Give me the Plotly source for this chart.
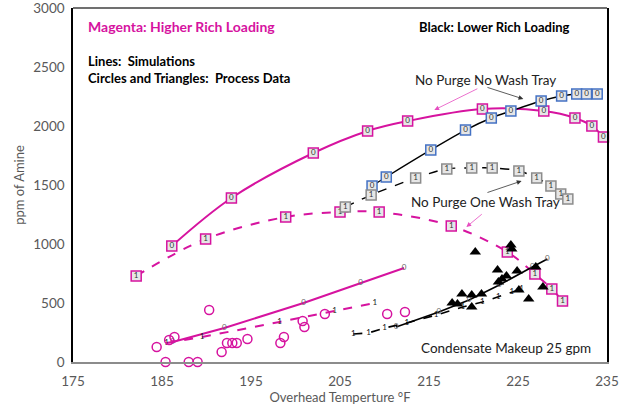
import plotly.graph_objects as go

MAG = "#D6139F"
BLK = "black"

# --- simulations, higher rich loading (magenta) ---
mag_nowash_x = [186.1, 192.8, 202.0, 208.1, 212.6, 221.0, 227.9, 231.4, 233.3, 234.6]
mag_nowash_y = [983, 1390, 1771, 1958, 2042, 2144, 2127, 2068, 2000, 1907]

mag_onewash_x = [182.1, 189.9, 198.9, 205.0, 209.4, 217.5, 223.8, 226.9, 228.8, 230.0]
mag_onewash_y = [729, 1042, 1229, 1271, 1271, 1153, 932, 746, 619, 517]

mag_cond_x = [186.2, 192.0, 200.9, 207.3, 212.2]
mag_cond_y = [170, 288, 500, 670, 797]

mag_cond1_x = [185.5, 189.5, 198.2, 204.4, 208.9]
mag_cond1_y = [161, 212, 339, 432, 500]

# --- simulations, lower rich loading (black) ---
blk_nowash_x = [208.6, 210.2, 215.2, 219.1, 222.0, 224.2, 227.6, 229.9, 231.6, 232.7, 233.9]
blk_nowash_y = [1492, 1568, 1797, 1966, 2068, 2127, 2212, 2254, 2271, 2271, 2271]

blk_onewash_x = [205.6, 208.5, 213.5, 217.0, 219.8, 222.1, 225.1, 227.1, 228.7, 229.8, 230.6]
blk_onewash_y = [1314, 1415, 1559, 1636, 1644, 1644, 1619, 1559, 1492, 1424, 1381]

blk_cond_x = [211.3, 216.1, 219.5, 222.9, 226.6, 228.3]
blk_cond_y = [297, 424, 525, 653, 805, 873]

blk_cond1_x = [206.5, 208.2, 210.0, 212.5, 215.8, 218.8, 221.0, 222.8, 224.3, 225.4]
blk_cond1_y = [237, 246, 288, 331, 398, 466, 508, 551, 593, 619]

# --- process data ---
circ_x = [184.4, 185.8, 186.4, 190.3, 185.4, 188.0, 189.0, 191.7, 192.3, 192.9, 193.4,
          194.6, 198.3, 198.7, 200.8, 201.0, 203.3, 210.3, 212.3]
circ_y = [127, 186, 212, 441, 0, 0, 0, 85, 161, 161, 161,
          195, 161, 212, 347, 297, 407, 407, 424]

tri_x = [220.2, 224.2, 224.3, 222.7, 224.9, 223.7, 223.2, 222.8, 218.7, 219.8, 220.9,
         217.6, 218.2, 219.8, 225.1, 226.2, 227.8, 227.0]
tri_y = [932, 992, 958, 780, 771, 729, 703, 678, 576, 568, 576,
         500, 492, 466, 610, 534, 636, 805]

FONT = "Lato"
fig = go.Figure()


def boxed(x, y, lab, color, dash, border):
    fig.add_trace(go.Scatter(
        x=x, y=y, mode="lines+markers+text", text=[lab] * len(x),
        textposition="middle center", textfont=dict(size=8, color="#333333"),
        line=dict(color=color, width=2 if color == MAG else 1.4, dash=dash, shape="spline"),
        marker=dict(symbol="square", size=10, color="#e6e6e6", line=dict(color=border, width=1.5)),
        cliponaxis=False, showlegend=False))


def plain(x, y, lab, color, dash, tcolor):
    fig.add_trace(go.Scatter(
        x=x, y=y, mode="lines+text", text=[lab] * len(x),
        textposition="middle center", textfont=dict(size=8, color=tcolor),
        line=dict(color=color, width=2 if color == MAG else 1.6, dash=dash),
        cliponaxis=False, showlegend=False))


boxed(mag_nowash_x, mag_nowash_y, "0", MAG, "solid", MAG)
boxed(mag_onewash_x, mag_onewash_y, "1", MAG, "dash", MAG)
boxed(blk_nowash_x, blk_nowash_y, "0", BLK, "solid", "#4472C4")
boxed(blk_onewash_x, blk_onewash_y, "1", BLK, "dash", "#8c8c8c")
plain(mag_cond_x, mag_cond_y, "0", MAG, "solid", "#666666")
plain(mag_cond1_x, mag_cond1_y, "1", MAG, "dash", "#222222")
plain(blk_cond_x, blk_cond_y, "0", BLK, "solid", "#666666")
plain(blk_cond1_x, blk_cond1_y, "1", BLK, "dash", "#111111")

fig.add_trace(go.Scatter(x=circ_x, y=circ_y, mode="markers", cliponaxis=False, showlegend=False,
                         marker=dict(symbol="circle-open", size=9, color=MAG, line=dict(width=1.5))))
fig.add_trace(go.Scatter(x=tri_x, y=tri_y, mode="markers", cliponaxis=False, showlegend=False,
                         marker=dict(symbol="triangle-up", size=10, color="black")))

ann = [
    dict(x=176.6, y=2840, text="<b>Magenta: Higher Rich Loading</b>", font=dict(color=MAG, size=14)),
    dict(x=213.8, y=2840, text="<b>Black: Lower Rich Loading</b>", font=dict(color="black", size=13)),
    dict(x=176.6, y=2550, text="<b>Lines:  Simulations</b>", font=dict(color="black", size=13)),
    dict(x=176.6, y=2405, text="<b>Circles and Triangles:  Process Data</b>", font=dict(color="black", size=13)),
]
for a in ann:
    fig.add_annotation(showarrow=False, xanchor="left", yanchor="middle", borderpad=0, **a)

for txt, x, y in [("No Purge No Wash Tray", 221.4, 2390),
                  ("No Purge One Wash Tray", 221.4, 1356),
                  ("Condensate Makeup 25 gpm", 223.7, 119)]:
    fig.add_annotation(x=x, y=y, text=txt, showarrow=False, font=dict(size=13.5, color="#222222"))

arrows = [(215.6, 2136, 220.6, 2322, "#E64DC0"),
          (225.6, 2229, 221.4, 2331, "#333333"),
          (225.4, 1534, 221.4, 1432, "#333333"),
          (219.2, 1144, 221.1, 1263, "#E64DC0")]
for hx, hy, tx, ty, c in arrows:
    fig.add_annotation(x=hx, y=hy, ax=tx, ay=ty, axref="x", ayref="y", text="",
                       showarrow=True, arrowhead=2, arrowsize=1.2, arrowwidth=0.8, arrowcolor=c)

# top frame line
fig.add_shape(type="line", xref="paper", yref="paper", x0=0, x1=1, y0=1, y1=1,
              line=dict(color="#404040", width=1.5))

fig.update_layout(
    width=626, height=411, plot_bgcolor="white", paper_bgcolor="white",
    margin=dict(l=73, r=19, t=8, b=49),
    font=dict(family=FONT, color="#595959"),
    xaxis=dict(range=[175, 235], dtick=10, tick0=175, showgrid=False, zeroline=False,
               showline=True, linecolor="#8c8c8c", linewidth=1.5, ticks="",
               automargin=False, ticklabeloverflow="allow", ticklabelstandoff=6,
               tickfont=dict(size=13.5, color="#595959"),
               title=dict(text="Overhead Temperture °F", font=dict(size=13, color="#595959"), standoff=4)),
    yaxis=dict(range=[0, 3000], dtick=500, showgrid=False, zeroline=False,
               showline=True, linecolor="black", linewidth=1.5, mirror=True, ticks="",
               automargin=False, ticklabeloverflow="allow", ticklabelstandoff=4,
               tickfont=dict(size=13.5, color="#595959"),
               title=dict(text="ppm of Amine", font=dict(size=13, color="#595959"), standoff=6)),
)

fig.write_html("out.html", config={"displayModeBar": False},
               post_script="document.body.style.margin='0';")
